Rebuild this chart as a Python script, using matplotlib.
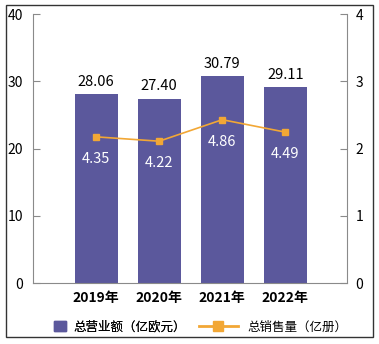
import matplotlib.pyplot as plt
from matplotlib.patches import Patch, Rectangle
from matplotlib.lines import Line2D
from matplotlib.ticker import FixedLocator, FuncFormatter

plt.rcParams['font.family'] = ['Noto Sans CJK SC', 'DejaVu Sans']

years = ['2019年', '2020年', '2021年', '2022年']
revenue = [28.06, 27.40, 30.79, 29.11]      # 亿欧元
sales = [4.35, 4.22, 4.86, 4.49]            # 亿册

BAR = '#5b589c'
LINE = '#f2a735'
AXIS = '#8a8a8a'

fig = plt.figure(figsize=(3.79, 3.44), dpi=100)
ax = fig.add_axes([0.087, 0.177, 0.829, 0.782])
x = list(range(len(years)))

ax.bar(x, revenue, width=0.68, color=BAR, zorder=2)
for xi, v in zip(x, revenue):
    ax.text(xi, v + 0.8, f'{v:.2f}', ha='center', va='bottom', fontsize=10.5)

ax.set_xlim(-1.0, 3.98)
ax.set_ylim(0, 40)
ax.set_yticks([0, 10, 20, 30, 40])
ax.set_xticks(x)
ax.set_xticklabels(years, fontsize=10, fontweight='bold')
ax.tick_params(axis='x', length=0, pad=6)
ax.tick_params(axis='y', direction='in', length=5, color=AXIS, pad=7,
               labelsize=10)
for s in ('top', 'right'):
    ax.spines[s].set_visible(False)
for s in ('left', 'bottom'):
    ax.spines[s].set_color(AXIS)

# 销售量副轴：刻度每格 2 个单位
ax2 = ax.twinx()
ax2.plot(x, sales, color=LINE, lw=1.2, marker='s', ms=4.5, zorder=3)
for xi, v in zip(x, sales):
    ax2.text(xi, v - 0.45, f'{v:.2f}', ha='center', va='top', fontsize=10.5,
             color='white')
ax2.set_ylim(0, 8)
ax2.yaxis.set_major_locator(FixedLocator([0, 2, 4, 6, 8]))
ax2.yaxis.set_major_formatter(FuncFormatter(lambda v, _: f'{v / 2:.0f}'))
ax2.tick_params(axis='y', direction='in', length=5, color=AXIS, pad=6,
                labelsize=10)
ax2.spines['top'].set_visible(False)
ax2.spines['left'].set_visible(False)
ax2.spines['bottom'].set_visible(False)
ax2.spines['right'].set_color(AXIS)

leg1 = fig.legend(handles=[Patch(color=BAR, label='总营业额（亿欧元）')],
                  loc='center left', bbox_to_anchor=(0.125, 0.05),
                  frameon=False, fontsize=9, handlelength=0.95,
                  handleheight=0.95, handletextpad=0.65, borderpad=0)
fig.add_artist(leg1)
fig.legend(handles=[Line2D([], [], color=LINE, lw=2, marker='s', ms=7,
                           label='总销售量（亿册）')],
           loc='center left', bbox_to_anchor=(0.508, 0.05), frameon=False,
           fontsize=9, handlelength=3.1, handletextpad=0.75, borderpad=0)

fig.add_artist(Rectangle((0.016, 0.02), 0.968, 0.965, transform=fig.transFigure,
                         fill=False, edgecolor='#333333', lw=1))

fig.savefig('out.png', dpi=100)
